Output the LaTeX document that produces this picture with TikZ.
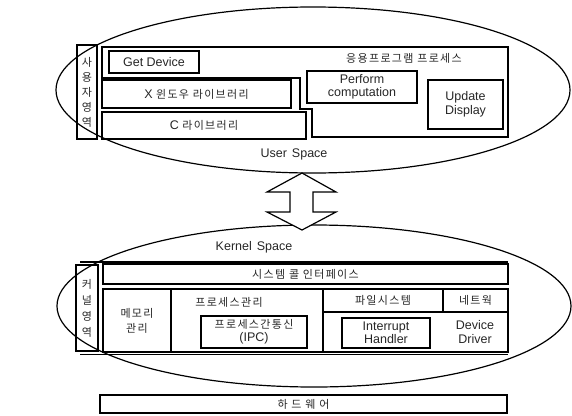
\documentclass[tikz,border=0pt]{standalone}
\usepackage{fontspec}
\usetikzlibrary{shapes.geometric}
\setmainfont{Liberation Sans}
\newfontfamily\kr[LetterSpace=12]{Noto Sans CJK KR}
\begin{document}
\begin{tikzpicture}[x=1pt,y=-1pt,
  box/.style={draw, line width=1.5pt, inner sep=0pt},
  lat/.style={text=black!85, font=\fontsize{12.5}{13.5}\selectfont, align=center, inner sep=0pt},
  krt/.style={text=black!85, font=\kr\fontsize{11}{15}\selectfont, align=center, inner sep=0pt},
  space/.style={draw, line width=1.2pt},
  frame/.style={line width=1.5pt}]
\useasboundingbox (0,0) rectangle (572,415);
% ellipses
\node[space, ellipse, minimum width=514pt, minimum height=166pt, inner sep=0pt] (uell) at (313,90) {};
\node[space, ellipse, minimum width=514pt, minimum height=162pt, inner sep=0pt] (kell) at (314,306) {};
% double arrow
\draw[line width=1.2pt, fill=white] (302,173) -- (336,192) -- (313,192) -- (313,212) -- (336,212) -- (302,230) -- (267,212) -- (290,212) -- (290,192) -- (267,192) -- cycle;
% ---------------- user space
\node[box, minimum width=20pt, minimum height=94pt] (uvert) at (87,92) {};
\node[krt] (uverttxt) at (87,92) {사\\용\\자\\영\\역};
\draw[frame] (102,47) -- (508,47) -- (508,137) -- (312,137) -- (312,109) -- (300,109) -- (300,78) -- (102,78) -- cycle;
\node[krt] (appproc) at (404,58) {응용프로그램 프로세스};
\node[box, lat, minimum width=90pt, minimum height=22pt] (getdev) at (154,62) {Get Device};
\node[box, lat, minimum width=189pt, minimum height=28pt] (xwin) at (196.5,94) {X {\kr\fontsize{11}{13}\selectfont 윈도우 라이브러리}};
\node[box, lat, minimum width=204pt, minimum height=27pt] (clib) at (204,125.5) {C {\kr\fontsize{11}{13}\selectfont 라이브러리}};
\node[box, lat, minimum width=110pt, minimum height=32pt] (perform) at (362,87) {Perform\\computation};
\node[box, lat, minimum width=75pt, minimum height=49pt] (update) at (465.5,104.5) {Update\\Display};
\node[lat] (userspace) at (294,154) {User\hspace{5pt}Space};
% ---------------- kernel space
\node[lat] (kernelspace) at (254,247) {Kernel\hspace{5pt}Space};
\node[box, minimum width=22pt, minimum height=86pt] (kvert) at (87,308) {};
\node[krt, font=\kr\fontsize{11}{16}\selectfont] (kverttxt) at (87,308) {커\\널\\영\\역};
\draw[line width=1.2pt] (80,262) -- (508,262);
\draw[line width=1.2pt] (80,354.5) -- (508,354.5);
\node[box, krt, minimum width=405pt, minimum height=20pt] (syscall) at (305.5,274) {시스템 콜 인터페이스};
\node[box, minimum width=68pt, minimum height=63pt] (mem) at (137,320.5) {};
\node[krt] (memtxt) at (137,320.5) {메모리\\관리};
\node[box, minimum width=152pt, minimum height=63pt] (proc) at (247,320.5) {};
\node[krt] (proctxt) at (229,302) {프로세스관리};
\node[box, minimum width=106pt, minimum height=32pt] (ipc) at (254,332) {};
\node[krt] (ipctxt) at (254,332) {프로세스간통신\\[-2pt]{\rmfamily\fontsize{12.5}{13.5}\selectfont (IPC)}};
\node[box, krt, minimum width=120pt, minimum height=23pt] (fs) at (383,300.5) {파일시스템};
\node[box, krt, minimum width=65pt, minimum height=23pt] (net) at (475.5,300.5) {네트웍};
\node[box, minimum width=185pt, minimum height=40pt] (drvarea) at (415.5,332) {};
\node[box, lat, minimum width=88pt, minimum height=30pt] (intr) at (386,333) {Interrupt\\Handler};
\node[lat] (drv) at (475,332) {Device\\Driver};
% ---------------- hardware
\node[box, krt, minimum width=407pt, minimum height=18pt] (hw) at (303.5,404) {하 드 웨 어};
\end{tikzpicture}
\end{document}
